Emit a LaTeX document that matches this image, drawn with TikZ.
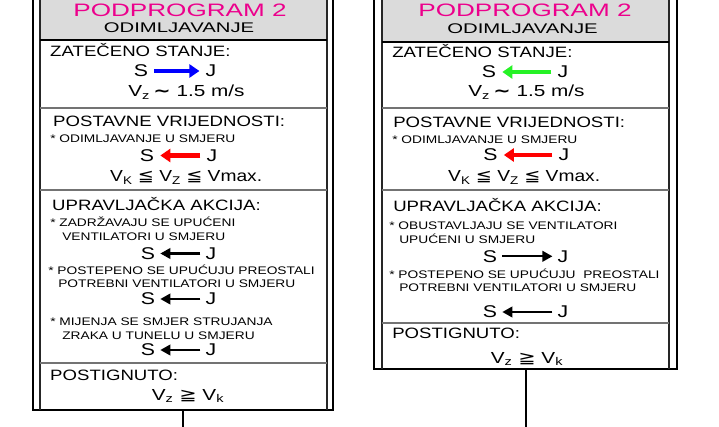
\documentclass[tikz,border=0pt]{standalone}
\usepackage{fontspec}
\setmainfont{Liberation Sans}
\newfontfamily\symfont{DejaVu Sans}
\usetikzlibrary{arrows.meta}
\definecolor{hdrgray}{gray}{0.86}
\definecolor{sepgray}{gray}{0.45}
\definecolor{arrblue}{rgb}{0,0,1}
\definecolor{arrred}{rgb}{1,0,0}
\definecolor{arrgreen}{rgb}{0.15,0.95,0.15}

\tikzset{
    frame/.style={line width=1.6pt, black},
    innerline/.style={line width=1.2pt, black!85},
    sepline/.style={line width=1.4pt, sepgray},
    ptitle/.style={font=\fontsize{18}{18}\selectfont, text=magenta, xscale=1.45, inner sep=0pt},
    psub/.style={font=\fontsize{14}{14}\selectfont, xscale=1.45, inner sep=0pt},
    phead/.style={font=\fontsize{15}{15}\selectfont, xscale=1.24, inner sep=0pt, anchor=base west},
    pnote/.style={font=\fontsize{11}{11}\selectfont, xscale=1.25, inner sep=0pt, anchor=base west},
    pdir/.style={font=\fontsize{17}{17}\selectfont, xscale=1.25, inner sep=0pt},
    pval/.style={font=\fontsize{16}{16}\selectfont, xscale=1.2, inner sep=0pt, anchor=base west},
    fatarrow/.style={line width=4.5pt, -{Triangle[length=10pt, width=13pt]}, shorten <=6pt, shorten >=6pt},
    thinarrow/.style={line width=2.2pt, -{Triangle[length=10pt, width=10.5pt]}, shorten <=5pt, shorten >=5pt},
}
\newcommand{\apprx}{{\symfont\bfseries\char`\~}}

\begin{document}
\begin{tikzpicture}[x=1pt, y=-1pt]
    \useasboundingbox (0,0) rectangle (719,427);

    % Left box: frame, header and section lines
    \fill[hdrgray] (40,-5) rectangle (327,40);
    \draw[frame] (33,-5) -- (33,410) -- (333,410) -- (333,-5);
    \draw[innerline] (40,-5) -- (40,410) (327,-5) -- (327,410);
    \draw[frame] (40,40) -- (327,40);
    \foreach \y in {108,190,363}
        \draw[sepline] (40,\y) -- (327,\y);

    % Right box: frame, header and section lines
    \fill[hdrgray] (382,-5) rectangle (669,42);
    \draw[frame] (374,-5) -- (374,369) -- (677,369) -- (677,-5);
    \draw[innerline] (382,-5) -- (382,369) (669,-5) -- (669,369);
    \draw[frame] (382,42) -- (669,42);
    \foreach \y in {108,190,323}
        \draw[sepline] (382,\y) -- (669,\y);

    % Left box texts
    \node[ptitle, anchor=base] (lTitle) at (180,16.5) {PODPROGRAM 2};
    \node[psub, anchor=base] (lSub) at (179,33) {ODIMLJAVANJE};
    \node[phead] (lHead1) at (50,57) {ZATEČENO STANJE:};
    \node[pdir] (lS1) at (141,71) {S};
    \node[pdir] (lJ1) at (211,71) {J};
    \draw[fatarrow, arrblue] (lS1.east) -- (lJ1.west |- lS1.east);
    \node[pval, xscale=1.08] (lVal1) at (128,97) {V\textsubscript{z}\,\apprx\ 1.5 m/s};

    \node[phead] (lHead2) at (53,127) {POSTAVNE VRIJEDNOSTI:};
    \node[pnote] (lNote1) at (50,143) {* ODIMLJAVANJE U SMJERU};
    \node[pdir] (lS2) at (147,155.5) {S};
    \node[pdir] (lJ2) at (212,155.5) {J};
    \draw[fatarrow, arrred] (lJ2.west) -- (lS2.east |- lJ2.west);
    \node[pval] (lVal2) at (110,181.5) {V\textsubscript{K} {\symfont ≦} V\textsubscript{Z} {\symfont ≦} Vmax.};

    \node[phead] (lHead3) at (52,211) {UPRAVLJAČKA AKCIJA:};
    \node[pnote] (lNote2) at (50,226.5) {* ZADRŽAVAJU SE UPUĆENI};
    \node[pnote] (lNote3) at (62,240.5) {VENTILATORI U SMJERU};
    \node[pdir] (lS3) at (148,253.5) {S};
    \node[pdir] (lJ3) at (211,253.5) {J};
    \draw[thinarrow] (lJ3.west) -- (lS3.east |- lJ3.west);
    \node[pnote] (lNote4) at (48,274) {* POSTEPENO SE UPUĆUJU PREOSTALI};
    \node[pnote] (lNote5) at (58,287.5) {POTREBNI VENTILATORI U SMJERU};
    \node[pdir] (lS4) at (148,299) {S};
    \node[pdir] (lJ4) at (211,299) {J};
    \draw[thinarrow] (lJ4.west) -- (lS4.east |- lJ4.west);
    \node[pnote] (lNote6) at (50,325) {* MIJENJA SE SMJER STRUJANJA};
    \node[pnote] (lNote7) at (62,339) {ZRAKA U TUNELU U SMJERU};
    \node[pdir] (lS5) at (148,350) {S};
    \node[pdir] (lJ5) at (211,350) {J};
    \draw[thinarrow] (lJ5.west) -- (lS5.east |- lJ5.west);

    \node[phead] (lHead4) at (50,380) {POSTIGNUTO:};
    \node[pval, anchor=base, xscale=1.08] (lVal3) at (188,400) {V\textsubscript{z} {\symfont ≧} V\textsubscript{k}};

    % Right box texts
    \node[ptitle, anchor=base] (rTitle) at (525,16.7) {PODPROGRAM 2};
    \node[psub, anchor=base] (rSub) at (522.5,33.3) {ODIMLJAVANJE};
    \node[phead] (rHead1) at (392,58) {ZATEČENO STANJE:};
    \node[pdir] (rS1) at (489,72) {S};
    \node[pdir] (rJ1) at (563,72) {J};
    \draw[fatarrow, arrgreen] (rJ1.west) -- (rS1.east |- rJ1.west);
    \node[pval, xscale=1.08] (rVal1) at (468,97) {V\textsubscript{z}\,\apprx\ 1.5 m/s};

    \node[phead] (rHead2) at (393,128) {POSTAVNE VRIJEDNOSTI:};
    \node[pnote] (rNote1) at (392,144) {* ODIMLJAVANJE U SMJERU};
    \node[pdir] (rS2) at (490.5,155) {S};
    \node[pdir] (rJ2) at (564,155) {J};
    \draw[fatarrow, arrred] (rJ2.west) -- (rS2.east |- rJ2.west);
    \node[pval] (rVal2) at (448,181.7) {V\textsubscript{K} {\symfont ≦} V\textsubscript{Z} {\symfont ≦} Vmax.};

    \node[phead] (rHead3) at (393,211.7) {UPRAVLJAČKA AKCIJA:};
    \node[pnote] (rNote2) at (389,229.3) {* OBUSTAVLJAJU SE VENTILATORI};
    \node[pnote] (rNote3) at (399,244) {UPUĆENI U SMJERU};
    \node[pdir] (rS3) at (490,256.3) {S};
    \node[pdir] (rJ3) at (563,256.3) {J};
    \draw[thinarrow] (rS3.east) -- (rJ3.west |- rS3.east);
    \node[pnote] (rNote4) at (389,278.3) {* POSTEPENO SE UPUĆUJU\ \ PREOSTALI};
    \node[pnote] (rNote5) at (399,291.7) {POTREBNI VENTILATORI U SMJERU};
    \node[pdir] (rS4) at (490,312) {S};
    \node[pdir] (rJ4) at (563,312) {J};
    \draw[thinarrow] (rJ4.west) -- (rS4.east |- rJ4.west);

    \node[phead] (rHead4) at (392,338.3) {POSTIGNUTO:};
    \node[pval, anchor=base, xscale=1.08] (rVal3) at (527,363) {V\textsubscript{z} {\symfont ≧} V\textsubscript{k}};

    % Outgoing connectors
    \coordinate (lBot) at (183,410);
    \coordinate (lEnd) at (183,430);
    \draw[frame] (lBot) -- (lEnd);
    \coordinate (rBot) at (526,369);
    \coordinate (rEnd) at (526,430);
    \draw[frame] (rBot) -- (rEnd);
\end{tikzpicture}
\end{document}
